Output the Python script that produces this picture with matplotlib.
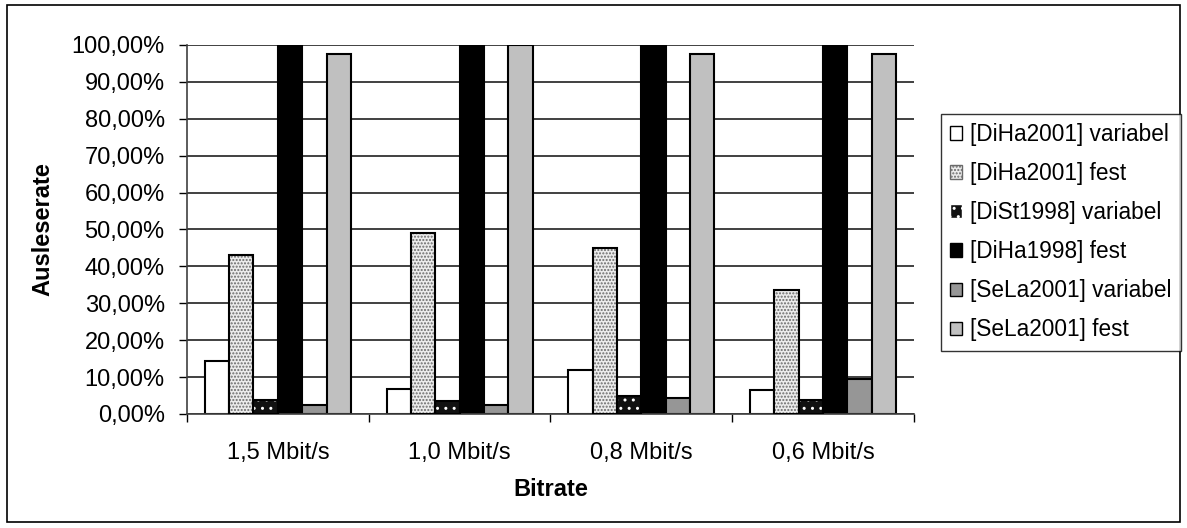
import matplotlib
matplotlib.use("Agg")
import matplotlib.pyplot as plt
from matplotlib.patches import Patch, Rectangle
from matplotlib.ticker import FuncFormatter, MultipleLocator
import numpy as np

plt.rcParams['font.family'] = ['Liberation Sans', 'DejaVu Sans']
plt.rcParams['hatch.linewidth'] = 1.0

categories = ["1,5 Mbit/s", "1,0 Mbit/s", "0,8 Mbit/s", "0,6 Mbit/s"]
series_names = ["[DiHa2001] variabel", "[DiHa2001] fest", "[DiSt1998] variabel",
                "[DiHa1998] fest", "[SeLa2001] variabel", "[SeLa2001] fest"]
diha2001_var = [14.4, 6.8, 11.9, 6.4]
diha2001_fest = [43.0, 49.0, 45.0, 33.5]
dist1998_var = [3.8, 3.4, 4.9, 3.8]
diha1998_fest = [100.0, 100.0, 100.0, 100.0]
sela2001_var = [2.4, 2.4, 4.2, 9.4]
sela2001_fest = [97.5, 100.0, 97.5, 97.5]
series = [diha2001_var, diha2001_fest, dist1998_var, diha1998_fest, sela2001_var, sela2001_fest]

# (face, hatch, hatch colour)
styles = [("white", None, None),
          ("#ececec", ".....", "#6a6a6a"),
          ("#111111", "..", "white"),
          ("black", None, None),
          ("#969696", None, None),
          ("#c0c0c0", None, None)]

fig = plt.figure(figsize=(11.87, 5.28), dpi=100)
ax = fig.add_axes([0.1575, 0.216, 0.6125, 0.699])

n = len(series)
w = 0.134
x = np.arange(len(categories)) + 0.5
for i, (vals, (fc, hatch, hc)) in enumerate(zip(series, styles)):
    pos = x + (i - (n - 1) / 2) * w
    if hatch:
        ax.bar(pos, vals, w, color=fc, edgecolor=hc, hatch=hatch, linewidth=0, zorder=2)
        ax.bar(pos, vals, w, facecolor='none', edgecolor='black', linewidth=1.5, zorder=3)
    else:
        ax.bar(pos, vals, w, color=fc, edgecolor='black', linewidth=1.5, zorder=2)

ax.set_xlim(0, len(categories))
ax.set_ylim(0, 100)
ax.yaxis.set_major_locator(MultipleLocator(10))
ax.yaxis.set_major_formatter(FuncFormatter(lambda v, p: f"{v:.2f}%".replace('.', ',')))
ax.set_xticks(np.arange(len(categories) + 1))
ax.set_xticklabels([])
ax.set_xticks(x, minor=True)
ax.set_xticklabels(categories, minor=True)
ax.tick_params(axis='x', which='minor', length=0, pad=20, labelsize=17)
ax.tick_params(axis='x', which='major', length=6, width=1, direction='out')
ax.tick_params(axis='y', length=6, width=1, direction='out', labelsize=17, pad=10)
ax.grid(axis='y', color='#202020', linewidth=1.2, zorder=0)
ax.set_axisbelow(True)
for s in ['top', 'right']:
    ax.spines[s].set_visible(False)
for s in ['left', 'bottom']:
    ax.spines[s].set_color('#404040')
    ax.spines[s].set_linewidth(1.2)

ax.set_xlabel("Bitrate", fontsize=17, fontweight='bold', labelpad=10)
ax.set_ylabel("Ausleserate", fontsize=17, fontweight='bold', labelpad=12)

handles = [Patch(facecolor=fc, edgecolor=(hc if hatch else 'black'), hatch=hatch, linewidth=1)
           for fc, hatch, hc in styles]
leg = fig.legend(handles, series_names, loc='upper left', bbox_to_anchor=(0.7925, 0.784),
                 fontsize=16.3, frameon=True, fancybox=False, edgecolor='black',
                 handlelength=0.55, handleheight=0.55, handletextpad=0.35,
                 labelspacing=0.71, borderpad=0.4, borderaxespad=0)
leg.get_frame().set_linewidth(1.0)

fig.patches.append(Rectangle((0.006, 0.012), 0.988, 0.978, transform=fig.transFigure,
                             fill=False, edgecolor='black', linewidth=1.2))

fig.savefig("out.png", dpi=100)
